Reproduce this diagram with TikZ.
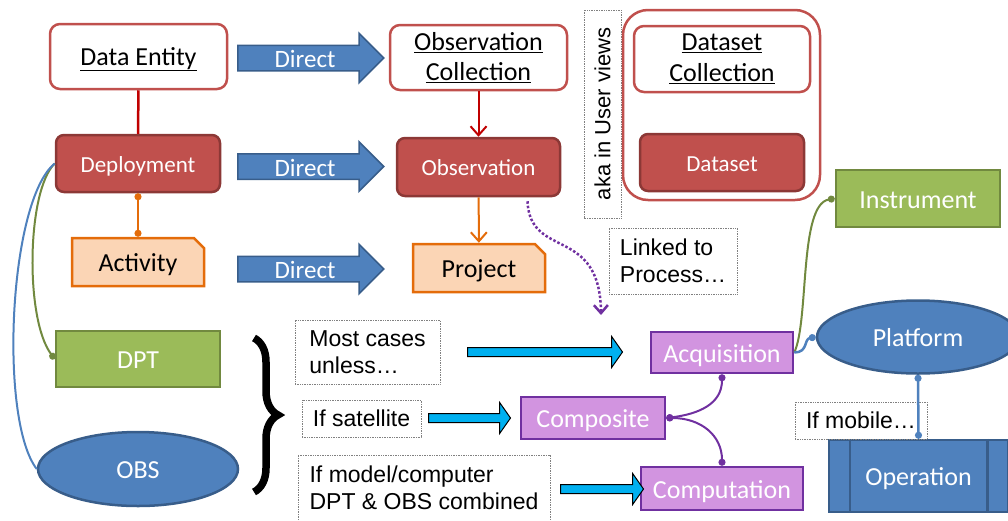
\documentclass[tikz,border=0pt]{standalone}
\usepackage{fontspec}
\setmainfont{Carlito}
\newfontfamily\notefont{Liberation Sans}
\usepackage{tikz}
\usetikzlibrary{shapes.geometric,shapes.arrows,shapes.misc,arrows.meta,decorations.pathreplacing}
\definecolor{redfill}{HTML}{C0504D}
\definecolor{redline}{HTML}{8C3836}
\definecolor{darkred}{HTML}{C00000}
\definecolor{grnfill}{HTML}{9BBB59}
\definecolor{grnline}{HTML}{71893F}
\definecolor{bluefill}{HTML}{4F81BD}
\definecolor{blueline}{HTML}{385D8A}
\definecolor{purfill}{HTML}{D294E0}
\definecolor{purline}{HTML}{7030A0}
\definecolor{orgfill}{HTML}{FBD5B5}
\definecolor{orgline}{HTML}{E46C0A}
\definecolor{cyanfill}{HTML}{00B0F0}
\newcommand{\bigtxt}{\fontsize{26}{30.5}\selectfont}
\newcommand{\midtxt}{\fontsize{23}{27}\selectfont}
\newcommand{\notetxt}{\notefont\fontsize{23}{27.5}\selectfont}
\tikzset{
  oneline/.style={text height=24,text depth=5},
  entity/.style={draw=redfill,fill=white,rounded corners=10,line width=2.5,inner sep=0,align=center,font=\bigtxt},
  redbox/.style={draw=redline,fill=redfill,rounded corners=8,line width=2.5,inner sep=0,text=white,font=\midtxt,
    oneline,text height=22},
  grnbox/.style={draw=grnline,fill=grnfill,line width=2.5,inner sep=0,text=white,font=\bigtxt,oneline},
  bluebox/.style={draw=blueline,fill=bluefill,line width=2.5,inner sep=0,text=white,font=\bigtxt,oneline},
  blueoval/.style={ellipse,draw=blueline,fill=bluefill,line width=2.5,inner sep=0,text=white,font=\bigtxt,oneline},
  purbox/.style={draw=purline,fill=purfill,line width=2.5,inner sep=0,text=white,font=\bigtxt,oneline},
  orgbox/.style={chamfered rectangle,chamfered rectangle corners=north east,chamfered rectangle xsep=7,
    draw=orgline,fill=orgfill,line width=2.5,inner sep=0,font=\bigtxt,oneline},
  note/.style={draw=gray,densely dotted,line width=0.7,inner sep=0,align=left,font=\notetxt},
  direct/.style={single arrow,draw=blueline,fill=bluefill,line width=1.5,inner xsep=0,inner ysep=12,
    minimum height=146,single arrow head extend=12,anchor=tail},
  dirtext/.style={text=white,inner sep=0,font=\fontsize{25}{28}\selectfont},
  cyanarr/.style={single arrow,draw=black,fill=cyanfill,line width=1,inner xsep=0,inner ysep=4,
    single arrow head extend=11,single arrow tip angle=110,anchor=tail},
  dot/.style={{Circle[length=7pt]}-{Circle[length=7pt]}},
  enddot/.style={-{Circle[length=7pt]}}
}
\begin{document}
\begin{tikzpicture}[x=1pt,y=-1pt]
\useasboundingbox (0,0) rectangle (1008,520);
\node[entity,oneline,text height=22,minimum width=177,minimum height=65] (de) at (138.5,56.5) {\underline{Data Entity}};
\node[entity,minimum width=177,minimum height=65] (oc) at (478.5,57.5) {\underline{Observation}\\\underline{Collection}};
\node[redbox,minimum width=164,minimum height=57] (dep) at (138,163.5) {Deployment};
\node[redbox,minimum width=163,minimum height=58] (obs) at (478.5,167) {Observation};
\node[orgbox,minimum width=132,minimum height=48] (act) at (138,262) {Activity};
\node[orgbox,minimum width=132,minimum height=48] (prj) at (479,268) {Project};
\node[direct] (d1) at (237,58) {};
\node[direct] (d2) at (237,166.5) {};
\node[direct] (d3) at (237,269) {};
\node[dirtext] (d1t) at (305,59) {Direct};
\node[dirtext] (d2t) at (305,167.5) {Direct};
\node[dirtext] (d3t) at (305,270) {Direct};
\node[note,rotate=90,minimum width=208,minimum height=37,font=\notefont\fontsize{22}{26}\selectfont] (aka) at (602.5,114) {aka in User views};
\node[draw=redfill,rounded corners=25,line width=2.5,minimum width=197,minimum height=190] (uv) at (721.5,105) {};
\node[entity,minimum width=176,minimum height=66] (dsc) at (722,59) {\underline{Dataset}\\\underline{Collection}};
\node[redbox,minimum width=164,minimum height=57] (ds) at (722,162.5) {Dataset};
\node[grnbox,minimum width=164,minimum height=57] (ins) at (918,198.5) {Instrument};
\node[note,minimum width=128,minimum height=66] (lk) at (673,261) {Linked to\\Process…};
\node[blueoval,minimum width=202,minimum height=73] (plt) at (918,337) {Platform};
\node[purbox,minimum width=142,minimum height=41] (acq) at (722,352.5) {Acquisition};
\node[purbox,minimum width=144,minimum height=42] (cmp) at (593,418) {Composite};
\node[purbox,minimum width=162,minimum height=43] (cpt) at (722,488.5) {Computation};
\node[bluebox,minimum width=179,minimum height=72] (op) at (918.5,476) {Operation};
\draw[blueline,line width=2.5] ([xshift=22pt]op.north west) -- ([xshift=22pt]op.south west)
  ([xshift=-22pt]op.north east) -- ([xshift=-22pt]op.south east);
\node[note,minimum width=132,minimum height=37] (mob) at (861,420.5) {If mobile…};
\node[grnbox,minimum width=164,minimum height=56] (dpt) at (138,359) {DPT};
\node[blueoval,minimum width=200,minimum height=74] (obsv) at (138,469) {OBS};
\node[note,minimum width=145,minimum height=64] (n1) at (367.5,352) {Most cases\\unless…};
\node[note,minimum width=119,minimum height=37] (n2) at (361.5,418.5) {If satellite};
\node[note,minimum width=252,minimum height=66] (n3) at (424,488) {If model/computer\\DPT \& OBS combined};
\node[cyanarr,minimum height=155] (c1) at (467,352) {};
\node[cyanarr,minimum height=82] (c2) at (428,418) {};
\node[cyanarr,minimum height=83] (c3) at (560,489) {};
\coordinate (br1) at (254,338);
\coordinate (br2) at (254,492);
\draw[line width=7.5,decorate,decoration={brace,amplitude=24}] (br1) -- (br2);
\draw[darkred,line width=2.5] (de) -- (dep);
\draw[darkred,line width=2,-{Straight Barb[length=9pt,width=16pt]}] (oc) -- (obs);
\draw[orgline,line width=2,-{Straight Barb[length=9pt,width=16pt]}] (obs) -- (prj);
\draw[orgline,line width=2,dot] (dep.south) -- (act.north);
\draw[grnline,line width=2,enddot] (dep.west) .. controls +(-28,27) and +(-30,-40) .. (dpt.west);
\draw[bluefill,line width=2] (dep.west) .. controls +(-46,37) and +(-38,-49) .. (obsv.west);
\coordinate (lkend) at (601,315);
\draw[purline,line width=2.5,dotted,-{Straight Barb[length=8pt,width=14pt]}] ([xshift=49pt,yshift=-4pt]obs.south) .. controls (530,260) and (600,225) .. (lkend);
\draw[grnline,line width=2,enddot] (acq.east) .. controls +(15,-32) and +(-36,6) .. (ins.west);
\draw[bluefill,line width=2.5,enddot] (acq.east) .. controls +(14,0) and +(-12,2) .. (plt.west);
\draw[purline,line width=2,dot] (acq.south) .. controls +(0,30) and +(32,-4) .. (cmp.east);
\draw[purline,line width=2,dot] (cmp.east) .. controls +(35,0) and +(0,-30) .. (cpt.north);
\draw[bluefill,line width=2.5,dot] (plt.south) -- (op.north);
\end{tikzpicture}
\end{document}
